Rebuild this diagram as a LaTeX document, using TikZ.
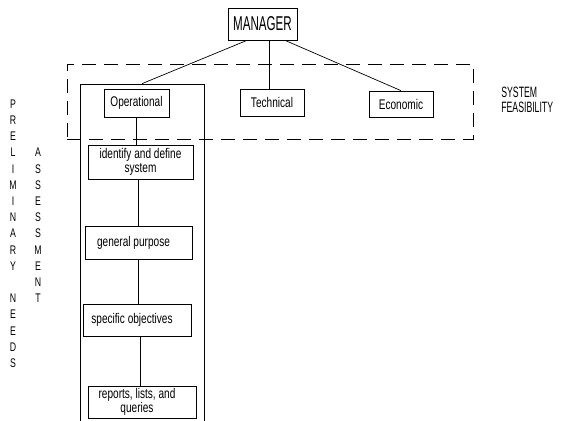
\documentclass[tikz,border=0pt]{standalone}
\usepackage{fontspec}
\usetikzlibrary{calc}
\newfontfamily\boxfont[FakeStretch=0.72]{Liberation Sans}
\newfontfamily\capfont[FakeStretch=0.58]{Liberation Sans}
\newfontfamily\letfont[FakeStretch=0.7]{Liberation Sans}
\newcommand{\padr}{\hspace*{10pt}}
\begin{document}
\begin{tikzpicture}[x=1pt,y=-1pt,line width=0.7pt,
  box/.style={draw,rectangle,inner sep=0pt,align=center,
    font=\boxfont\fontsize{14}{14.5}\selectfont},
  conn/.style={draw,line width=0.7pt},
  vlet/.style={inner sep=0pt,font=\letfont\fontsize{12.5}{13}\selectfont},
  frame/.style={draw,rectangle,inner sep=0pt,dash pattern=on 14pt off 8pt}]
\useasboundingbox[fill=white] (0,0) rectangle (564,420);

% group frames
\node[frame,minimum width=406pt,minimum height=75pt] (feas) at (270,101.5) {};
\node[draw,rectangle,inner sep=0pt,minimum width=124pt,minimum height=340pt] (opcol) at (142,254) {};

% boxes
\node[box,minimum width=69pt,minimum height=32pt,font=\capfont\fontsize{20}{20}\selectfont] (mgr) at (262.5,24) {MANAGER};
\node[box,minimum width=65pt,minimum height=28pt] (op) at (136.5,103) {Operational};
\node[box,minimum width=64pt,minimum height=27pt] (tech) at (272,102.5) {Technical};
\node[box,minimum width=64pt,minimum height=26pt] (eco) at (401,104) {Economic};
\node[box,minimum width=105pt,minimum height=34pt] (id) at (140.5,162) {identify and define\\system};
\node[box,minimum width=107pt,minimum height=33pt] (gen) at (138.5,242.5) {general purpose\padr};
\node[box,minimum width=108pt,minimum height=32pt] (spec) at (137,320) {specific objectives\padr};
\node[box,minimum width=108pt,minimum height=32pt] (rep) at (142,402) {reports, lists, and\padr\\queries\padr};

% connectors
\draw[conn] ($(mgr.south)+(-15.5,0)$) -- (opcol.north);
\draw[conn] ($(mgr.south)+(6.5,0)$) -- ($(tech.north)+(-3,0)$);
\draw[conn] ($(mgr.south)+(22.5,0)$) -- (eco.north);
\draw[conn] (op.south) -- (op.south |- id.north);
\draw[conn] (gen.north) -- (gen.north |- id.south);
\draw[conn] (gen.south) -- (gen.south |- spec.north);
\draw[conn] ($(spec.south)+(3,0)$) -- ($(spec.south |- rep.north)+(3,0)$);

% side label
\node[anchor=north west,align=left,inner sep=0pt,font=\capfont\fontsize{15}{15}\selectfont] (sf) at (501,87) {SYSTEM\\FEASIBILITY};

% vertical letters
\foreach \ch [count=\i from 0] in {P,R,E,L,I,M,I,N,A,R,Y}
  \node[vlet] (pa\i) at (13,{104+16.2*\i}) {\ch};
\foreach \ch [count=\i from 12] in {N,E,E,D,S}
  \node[vlet] (pb\i) at (13,{104+16.2*\i}) {\ch};
\foreach \ch [count=\i from 3] in {A,S,S,E,S,S,M,E,N,T}
  \node[vlet] (as\i) at (38,{104+16.2*\i}) {\ch};
\end{tikzpicture}
\end{document}
